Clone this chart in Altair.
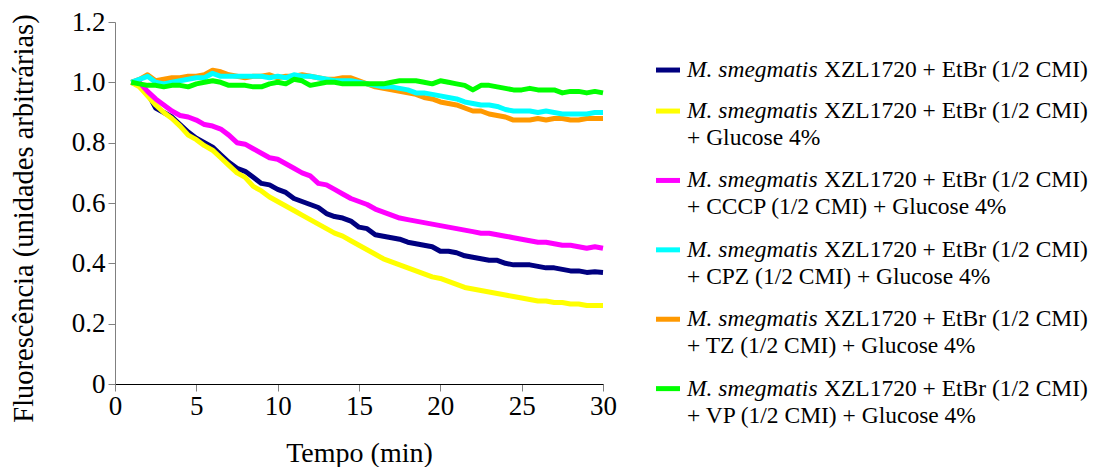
import altair as alt
import pandas as pd
import numpy as np

# ---------------- data ----------------
time_min = list(np.arange(1.0, 30.01, 0.5))  # sampling grid, minutes

etbr = [1.00, 0.99, 0.965, 0.915, 0.90, 0.885, 0.86, 0.835, 0.815, 0.80,
        0.785, 0.76, 0.735, 0.715, 0.705, 0.685, 0.665, 0.66, 0.645, 0.635,
        0.615, 0.605, 0.595, 0.585, 0.565, 0.555, 0.55, 0.54, 0.52, 0.515,
        0.495, 0.49, 0.485, 0.48, 0.47, 0.465, 0.46, 0.455, 0.44, 0.44,
        0.435, 0.425, 0.42, 0.415, 0.41, 0.41, 0.40, 0.395, 0.395, 0.395,
        0.39, 0.385, 0.385, 0.38, 0.375, 0.375, 0.37, 0.372, 0.37]

etbr_glu = [1.00, 0.985, 0.955, 0.925, 0.90, 0.88, 0.855, 0.825, 0.81, 0.79,
            0.775, 0.75, 0.725, 0.70, 0.685, 0.655, 0.64, 0.62, 0.605, 0.59,
            0.575, 0.56, 0.545, 0.53, 0.515, 0.50, 0.49, 0.475, 0.46, 0.445,
            0.43, 0.415, 0.405, 0.395, 0.385, 0.375, 0.365, 0.355, 0.35, 0.34,
            0.33, 0.32, 0.315, 0.31, 0.305, 0.30, 0.295, 0.29, 0.285, 0.28,
            0.275, 0.275, 0.27, 0.27, 0.265, 0.265, 0.26, 0.26, 0.26]

cccp = [1.00, 1.00, 0.97, 0.945, 0.925, 0.905, 0.89, 0.885, 0.875, 0.86,
        0.855, 0.845, 0.825, 0.80, 0.795, 0.78, 0.765, 0.75, 0.745, 0.73,
        0.715, 0.70, 0.69, 0.665, 0.66, 0.645, 0.63, 0.615, 0.605, 0.595,
        0.58, 0.57, 0.56, 0.55, 0.545, 0.54, 0.535, 0.53, 0.525, 0.52,
        0.515, 0.51, 0.505, 0.50, 0.50, 0.495, 0.49, 0.485, 0.48, 0.475,
        0.47, 0.47, 0.465, 0.46, 0.46, 0.455, 0.45, 0.455, 0.45]

cpz = [1.00, 1.01, 1.02, 1.00, 0.995, 1.00, 1.005, 1.01, 1.015, 1.015,
       1.03, 1.02, 1.02, 1.02, 1.02, 1.02, 1.02, 1.015, 1.02, 1.015,
       1.025, 1.02, 1.02, 1.015, 1.01, 1.005, 1.005, 1.005, 1.00, 0.995,
       0.99, 0.985, 0.985, 0.98, 0.975, 0.965, 0.965, 0.96, 0.955, 0.95,
       0.945, 0.935, 0.93, 0.925, 0.925, 0.92, 0.91, 0.905, 0.905, 0.905,
       0.90, 0.905, 0.90, 0.895, 0.895, 0.895, 0.895, 0.90, 0.90]

tz = [1.00, 1.01, 1.025, 1.005, 1.01, 1.015, 1.015, 1.02, 1.02, 1.025,
      1.04, 1.035, 1.025, 1.02, 1.015, 1.02, 1.02, 1.025, 1.015, 1.02,
      1.02, 1.025, 1.02, 1.015, 1.01, 1.01, 1.015, 1.015, 1.005, 0.995,
      0.985, 0.98, 0.975, 0.97, 0.965, 0.96, 0.95, 0.945, 0.935, 0.93,
      0.925, 0.915, 0.905, 0.905, 0.895, 0.89, 0.885, 0.875, 0.875, 0.875,
      0.88, 0.875, 0.88, 0.88, 0.875, 0.875, 0.88, 0.88, 0.88]

vp = [1.00, 0.995, 0.99, 0.99, 0.985, 0.99, 0.99, 0.985, 0.995, 1.00,
      1.005, 1.00, 0.99, 0.99, 0.99, 0.985, 0.985, 0.995, 1.00, 0.995,
      1.01, 1.005, 0.99, 0.995, 1.00, 1.00, 0.995, 0.995, 0.995, 0.995,
      0.995, 0.995, 1.00, 1.005, 1.005, 1.005, 1.00, 0.995, 1.005, 1.00,
      0.995, 0.99, 0.975, 0.99, 0.99, 0.985, 0.98, 0.975, 0.975, 0.98,
      0.975, 0.975, 0.975, 0.965, 0.97, 0.97, 0.965, 0.97, 0.965]

series_keys = ["EtBr", "EtBr+Glu", "CCCP", "CPZ", "TZ", "VP"]
series_values = [etbr, etbr_glu, cccp, cpz, tz, vp]
series_colors = ["#000080", "#FFFF00", "#FF00FF", "#00FFFF", "#FF9900", "#00FF00"]
draw_order = ["EtBr", "EtBr+Glu", "CCCP", "TZ", "CPZ", "VP"]  # later = on top

legend_italic = ["M. smegmatis"] * 6
legend_line1 = ["XZL1720 + EtBr (1/2 CMI)"] * 6
legend_line2 = ["", "+ Glucose 4%", "+ CCCP (1/2 CMI) + Glucose 4%",
                "+ CPZ (1/2 CMI) + Glucose 4%", "+ TZ (1/2 CMI) + Glucose 4%",
                "+ VP (1/2 CMI) + Glucose 4%"]

x_ticks = [0, 5, 10, 15, 20, 25, 30]
y_ticks = [0, 0.2, 0.4, 0.6, 0.8, 1.0, 1.2]

# ---------------- tables ----------------
values_by_key = dict(zip(series_keys, series_values))
rows = []
for k in draw_order:
    for t, v in zip(time_min, values_by_key[k]):
        rows.append({"series": k, "t": t, "v": v})
df = pd.DataFrame(rows)

ENTRY_STEP = 1.46   # legend step between entries, in legend units
LINE_STEP = 0.96    # second text line offset, in legend units
leg_rows = []
pos = 0.0
for k, it, l1, l2 in zip(series_keys, legend_italic, legend_line1, legend_line2):
    leg_rows.append({"series": k, "italic": it, "line1": l1, "line2": l2, "pos": pos})
    pos += ENTRY_STEP + (1.01 if l2 else 0)
leg = pd.DataFrame(leg_rows)

FONT = "Liberation Serif"
color_scale = alt.Scale(domain=series_keys, range=series_colors)

# ---------------- main plot ----------------
main = alt.Chart(df).mark_line(strokeWidth=5, strokeJoin="round", strokeCap="butt").encode(
    x=alt.X("t:Q", scale=alt.Scale(domain=[0, 30], nice=False),
            axis=alt.Axis(values=x_ticks, title="Tempo (min)", grid=False,
                          domainColor="#000000", tickColor="#808080",
                          tickSize=7, labelPadding=2, titlePadding=20,
                          titleFontSize=28, labelFlush=False)),
    y=alt.Y("v:Q", scale=alt.Scale(domain=[0, 1.2], nice=False),
            axis=alt.Axis(values=y_ticks, title="Fluorescência (unidades arbitrárias)",
                          grid=False, domainColor="#808080", tickColor="#808080",
                          tickSize=7, labelPadding=3, titlePadding=33,
                          titleFontSize=28.5, titleY=196, labelFlush=False,
                          labelExpr="datum.value == 0 ? '0' : format(datum.value, '.1f')")),
    color=alt.Color("series:N", scale=color_scale, legend=None),
    detail="series:N",
    order="t:Q",
).properties(width=488, height=362)

# ---------------- custom legend (mixed italic / roman text) ----------------
ysc = alt.Scale(domain=[-1.71, 13.24], reverse=True, nice=False, zero=False)
base = alt.Chart(leg)
swatch = base.mark_rule(strokeWidth=5).encode(
    x=alt.value(0), x2=alt.value(24),
    y=alt.Y("pos:Q", scale=ysc, axis=None),
    color=alt.Color("series:N", scale=color_scale, legend=None),
)
txt_kw = dict(align="left", baseline="middle", font=FONT, fontSize=23.5, color="#000000")
italic_txt = base.mark_text(fontStyle="italic", **txt_kw).encode(
    x=alt.value(31), y=alt.Y("pos:Q", scale=ysc, axis=None), text="italic:N")
line1_txt = base.mark_text(dx=137, **txt_kw).encode(
    x=alt.value(31), y=alt.Y("pos:Q", scale=ysc, axis=None), text="line1:N")
line2_txt = base.transform_filter("datum.line2 != ''").transform_calculate(
    pos2=f"datum.pos + {LINE_STEP}").mark_text(**txt_kw).encode(
    x=alt.value(31), y=alt.Y("pos2:Q", scale=ysc, axis=None), text="line2:N")

legend = alt.layer(swatch, italic_txt, line1_txt, line2_txt).properties(width=430, height=420)

chart = alt.hconcat(main, legend, spacing=36).properties(
    padding={"left": 9, "top": 8, "right": 0, "bottom": 0}
).configure_view(stroke=None).configure_axis(
    labelFont=FONT, labelFontSize=27, labelColor="#000000",
    titleFont=FONT, titleFontWeight="normal", titleColor="#000000",
)

chart.save("out.html", embed_options={"renderer": "svg", "actions": False})
